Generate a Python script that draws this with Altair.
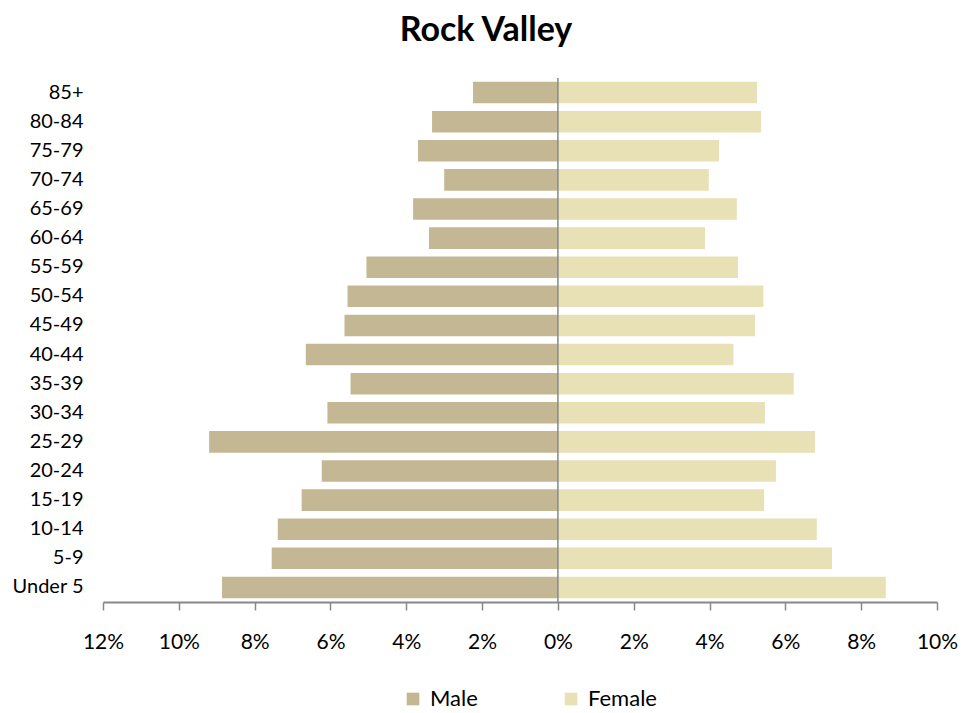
import altair as alt
import pandas as pd

ages = ["85+", "80-84", "75-79", "70-74", "65-69", "60-64", "55-59", "50-54", "45-49",
        "40-44", "35-39", "30-34", "25-29", "20-24", "15-19", "10-14", "5-9", "Under 5"]
male = [2.24, 3.32, 3.69, 3.00, 3.82, 3.40, 5.05, 5.55, 5.63,
        6.65, 5.47, 6.08, 9.20, 6.23, 6.76, 7.39, 7.55, 8.86]
female = [5.25, 5.36, 4.25, 3.98, 4.72, 3.88, 4.75, 5.42, 5.20,
          4.63, 6.22, 5.46, 6.78, 5.75, 5.44, 6.83, 7.23, 8.65]
tick_values = [-12, -10, -8, -6, -4, -2, 0, 2, 4, 6, 8, 10]

rows = []
for a, m, f in zip(ages, male, female):
    rows.append({"age": a, "sex": "Male", "value": -m})
    rows.append({"age": a, "sex": "Female", "value": f})
df = pd.DataFrame(rows)

FONT = "Lato"

bars = alt.Chart(df).mark_bar().encode(
    y=alt.Y("age:N", sort=ages, title=None,
            scale=alt.Scale(paddingInner=0.26, paddingOuter=0.13),
            axis=alt.Axis(ticks=False, domain=False, labelFontSize=20, labelColor="black",
                          labelFont=FONT, labelPadding=20)),
    x=alt.X("value:Q", stack=None, title=None,
            scale=alt.Scale(domain=[-12, 10], nice=False),
            axis=alt.Axis(values=tick_values, labelExpr="abs(datum.value) + '%'",
                          grid=False, domainColor="#888888", tickColor="#888888",
                          tickSize=8, labelPadding=21, labelFontSize=21, labelFont=FONT,
                          labelColor="black", domainWidth=2, tickWidth=1.5,
                          labelFlush=False)),
    color=alt.Color("sex:N", sort=["Male", "Female"],
                    scale=alt.Scale(domain=["Male", "Female"], range=["#C4B794", "#E8E1B6"]),
                    legend=alt.Legend(title=None, orient="none", direction="horizontal",
                                      legendX=299, legendY=610, symbolType="square",
                                      symbolSize=160, symbolStrokeWidth=0,
                                      labelFontSize=22, labelFont=FONT, labelColor="black",
                                      columnPadding=82, labelOffset=6)),
)

zero = alt.Chart(pd.DataFrame({"v": [0]})).mark_rule(color="#888888", strokeWidth=1.5).encode(
    x=alt.X("v:Q")
)

chart = alt.layer(bars, zero).properties(
    width=834, height=524,
    title=alt.TitleParams("Rock Valley", fontSize=34, font=FONT, fontWeight="bold",
                          color="black", anchor="middle", dx=-34, offset=29),
    padding={"left": 95, "top": 70, "right": 34, "bottom": 115},
    autosize=alt.AutoSizeParams(type="none"),
).configure_view(stroke=None)

chart.save("out.html", embed_options={"renderer": "svg", "actions": False})
